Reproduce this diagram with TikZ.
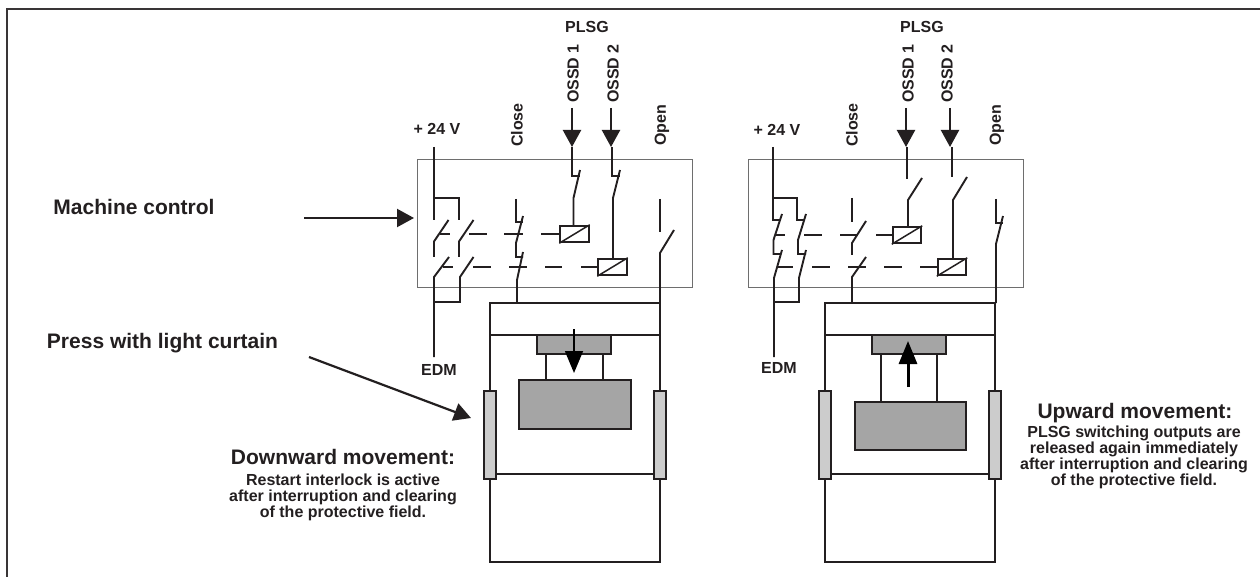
\documentclass[tikz,border=0pt]{standalone}
\usepackage{fontspec}
\setmainfont{Liberation Sans}
\usetikzlibrary{arrows.meta}
\definecolor{ink}{HTML}{231F20}
\definecolor{blockgray}{HTML}{A5A5A5}
\definecolor{curtaingray}{HTML}{CCCCCC}
\definecolor{framegray}{HTML}{6E6E6E}
\tikzset{
  wire/.style={line width=1.9pt,draw=ink},
  thinwire/.style={line width=1.5pt,draw=ink},
  bigarrow/.style={line width=2.2pt,draw=ink,-{Triangle[length=17pt,width=18pt,fill=ink]}},
  ctrlbox/.style={draw=framegray,line width=1pt,fill=white,minimum width=275pt,minimum height=128pt,inner sep=0pt},
  coil/.style={draw=ink,line width=1.9pt,fill=white,minimum width=28.5pt,minimum height=16.5pt,inner sep=0pt},
  block/.style={draw=ink,line width=1.8pt,fill=blockgray,inner sep=0pt},
  curtain/.style={draw=ink,line width=1.8pt,fill=curtaingray,minimum width=12pt,minimum height=88pt,inner sep=0pt},
  lbl/.style={inner sep=0pt,text=ink,font=\bfseries\fontsize{16}{16}\selectfont},
  vlbl/.style={lbl,rotate=90},
  biglbl/.style={inner sep=0pt,text=ink,font=\bfseries\fontsize{21}{21}\selectfont},
  note/.style={lbl,align=center}
}
\begin{document}
\begin{tikzpicture}[x=1pt,y=-1pt]
\useasboundingbox[fill=white] (0,0) rectangle (1260,577);
% outer frame
\draw[line width=2.6pt,draw=ink!90] (7,577) -- (7,9) -- (1260,9);

% ===== control boxes
\node[ctrlbox] (boxL) at (555.2,223.7) {};
\node[ctrlbox] (boxR) at (885.5,223.7) {};

% ===== labels
\node[biglbl] (mc) at (134,207) {Machine control};
\node[biglbl] (pl) at (162.5,343) {Press with light curtain};
\coordinate (mcs) at (304,218);
\coordinate (mce) at (414,218);
\coordinate (pls) at (309,357);
\coordinate (ple) at (471,418);
\draw[bigarrow] (mcs) -- (mce);
\draw[bigarrow] (pls) -- (ple);

\node[lbl] (plsgL) at (587,27) {PLSG};
\node[lbl] (plsgR) at (922,27) {PLSG};
\node[vlbl,anchor=west] (o1L) at (573,103) {OSSD 1};
\node[vlbl,anchor=west] (o2L) at (613,103) {OSSD 2};
\node[vlbl,anchor=west] (o1R) at (908,103) {OSSD 1};
\node[vlbl,anchor=west] (o2R) at (947,103) {OSSD 2};
\node[vlbl,anchor=west] (clL) at (517,147) {Close};
\node[vlbl,anchor=west] (clR) at (852,147) {Close};
\node[vlbl,anchor=west] (opL) at (662,146) {Open};
\node[vlbl,anchor=west] (opR) at (997,146) {Open};
\node[lbl] (vL) at (437,129) {+ 24 V};
\node[lbl] (vR) at (777,130) {+ 24 V};
\node[lbl] (edmL) at (439,370) {EDM};
\node[lbl] (edmR) at (779,368) {EDM};

\node[biglbl] (dh) at (343,457) {Downward movement:};
\node[note] (dt) at (343,497) {Restart interlock is active\\after interruption and clearing\\of the protective field.};
\node[biglbl] (uh) at (1135,413) {Upward movement:};
\node[note] (ut) at (1134,457) {PLSG switching outputs are\\released again immediately\\after interruption and clearing\\of the protective field.};

% ===== left circuit
\coordinate (o1Ls) at (572,108);
\coordinate (o1Lt) at (572,147);
\coordinate (o2Ls) at (611,108);
\coordinate (o2Lt) at (611,147);
\draw[bigarrow] (o1Ls) -- (o1Lt);
\draw[bigarrow] (o2Ls) -- (o2Lt);
\node[coil] (c1L) at (574.5,234) {};
\node[coil] (c2L) at (612.5,267) {};
\draw[thinwire] (c1L.south west) -- (c1L.north east);
\draw[thinwire] (c2L.south west) -- (c2L.north east);
% +24V and NO contacts
\draw[wire] (434,147) -- (434,220);
\draw[wire] (434,198) -- (459,198) -- (459,220);
\draw[wire] (434,257) -- (434,241.5) -- (448.5,220);
\draw[wire] (459,257) -- (459,241.5) -- (473.5,220);
\draw[wire] (434,357) -- (434,277) -- (449,257);
\draw[wire] (434,302) -- (460,302) -- (460,277) -- (473.5,257);
% Close NC contacts
\draw[wire] (516,199) -- (516,222) -- (523,222);
\draw[wire] (523,216) -- (516,243) -- (516,257) -- (523,257);
\draw[wire] (523,252) -- (517,280) -- (517,303);
% OSSD NC contacts
\draw[wire] (572,147) -- (572,176) -- (580,176);
\draw[wire] (580,170) -- (573.5,198) -- (c1L.north-|573.5,0);
\draw[wire] (612,147) -- (612,176) -- (620,176);
\draw[wire] (620,170) -- (613,198) -- (c2L.north-|613,0);
% Open NO contact
\draw[wire] (660,199) -- (660,232);
\draw[wire] (674,230) -- (660,253) -- (660,303);
% action bars
\draw[wire] (440,234) -- (450,234);
\draw[wire] (469,234) -- (487,234);
\draw[wire] (504,234) -- (523,234);
\draw[wire] (541,234) -- (c1L.west);
\draw[wire] (443,267) -- (453,267);
\draw[wire] (473,267) -- (491,267);
\draw[wire] (509,267) -- (527,267);
\draw[wire] (545,267) -- (562,267);
\draw[wire] (581,267) -- (c2L.west);
% press left
\draw[wire] (490,562) -- (490,303) -- (660,303) -- (660,562) -- cycle;
\draw[wire] (489,335) -- (660,335);
\draw[wire] (490,474) -- (660,474);
\draw[thinwire] (546,354) -- (546,380);
\draw[thinwire] (603,354) -- (603,380);
\node[block,minimum width=74pt,minimum height=19pt] (puL) at (574,344.5) {};
\node[block,minimum width=112pt,minimum height=49pt] (plL) at (575,404.5) {};
\node[curtain] (clL1) at (490,435) {};
\node[curtain] (clL2) at (660,435) {};
\coordinate (paLs) at (574,329);
\coordinate (paLe) at (574,373);
\draw[line width=1.6pt,draw=black,-{Triangle[length=22pt,width=18pt,fill=black]}] (paLs) -- (paLe);

% ===== right circuit
\coordinate (o1Rs) at (906,108);
\coordinate (o1Rt) at (906,147);
\coordinate (o2Rs) at (950,108);
\coordinate (o2Rt) at (950,147);
\draw[bigarrow] (o1Rs) -- (o1Rt);
\draw[bigarrow] (o2Rs) -- (o2Rt);
\node[coil] (c1R) at (907,235) {};
\node[coil] (c2R) at (952,267) {};
\draw[thinwire] (c1R.south west) -- (c1R.north east);
\draw[thinwire] (c2R.south west) -- (c2R.north east);
% +24V and NC contacts
\draw[wire] (773,147) -- (773,220) -- (781,220);
\draw[wire] (773,198) -- (797,198) -- (797,220) -- (805,220);
\draw[wire] (782,214) -- (773.5,240) -- (773.5,254) -- (781,254);
\draw[wire] (806,214) -- (798,240) -- (798,254) -- (806,254);
\draw[wire] (782,250) -- (774,278) -- (774,357);
\draw[wire] (806,250) -- (799,278) -- (799,302) -- (774,302);
% Close NO contacts
\draw[wire] (852,198) -- (852,222);
\draw[wire] (866,221) -- (852,243) -- (852,255);
\draw[wire] (866,257) -- (852,277) -- (852,303);
% OSSD NO contacts
\draw[wire] (907,147) -- (907,179);
\draw[wire] (922,178) -- (908,200) -- (c1R.north-|908,0);
\draw[wire] (952,147) -- (952,177);
\draw[wire] (967,177) -- (953,200) -- (c2R.north-|953,0);
% Open NC contact
\draw[wire] (996,199) -- (996,223) -- (1003,223);
\draw[wire] (1003,216) -- (996,244) -- (996,303);
% action bars
\draw[wire] (775,235) -- (785,235);
\draw[wire] (804,235) -- (822,235);
\draw[wire] (840,235) -- (858,235);
\draw[wire] (876,235) -- (c1R.west);
\draw[wire] (778,267) -- (793,267);
\draw[wire] (812,267) -- (830,267);
\draw[wire] (848,267) -- (866,267);
\draw[wire] (884,267) -- (902,267);
\draw[wire] (920,267) -- (c2R.west);
% press right
\draw[wire] (825,562) -- (825,303) -- (995,303) -- (995,562) -- cycle;
\draw[wire] (824,335) -- (995,335);
\draw[wire] (825,474) -- (995,474);
\draw[thinwire] (881,354) -- (881,402);
\draw[thinwire] (937,354) -- (937,402);
\node[block,minimum width=74pt,minimum height=19pt] (puR) at (909,344.5) {};
\node[block,minimum width=111pt,minimum height=48pt] (plR) at (910.5,426) {};
\node[curtain] (crR1) at (825,435) {};
\node[curtain] (crR2) at (995,435) {};
\coordinate (paRs) at (908,387);
\coordinate (paRe) at (908,341);
\draw[line width=3pt,draw=black,-{Triangle[length=23pt,width=18pt,fill=black]}] (paRs) -- (paRe);
\end{tikzpicture}
\end{document}
